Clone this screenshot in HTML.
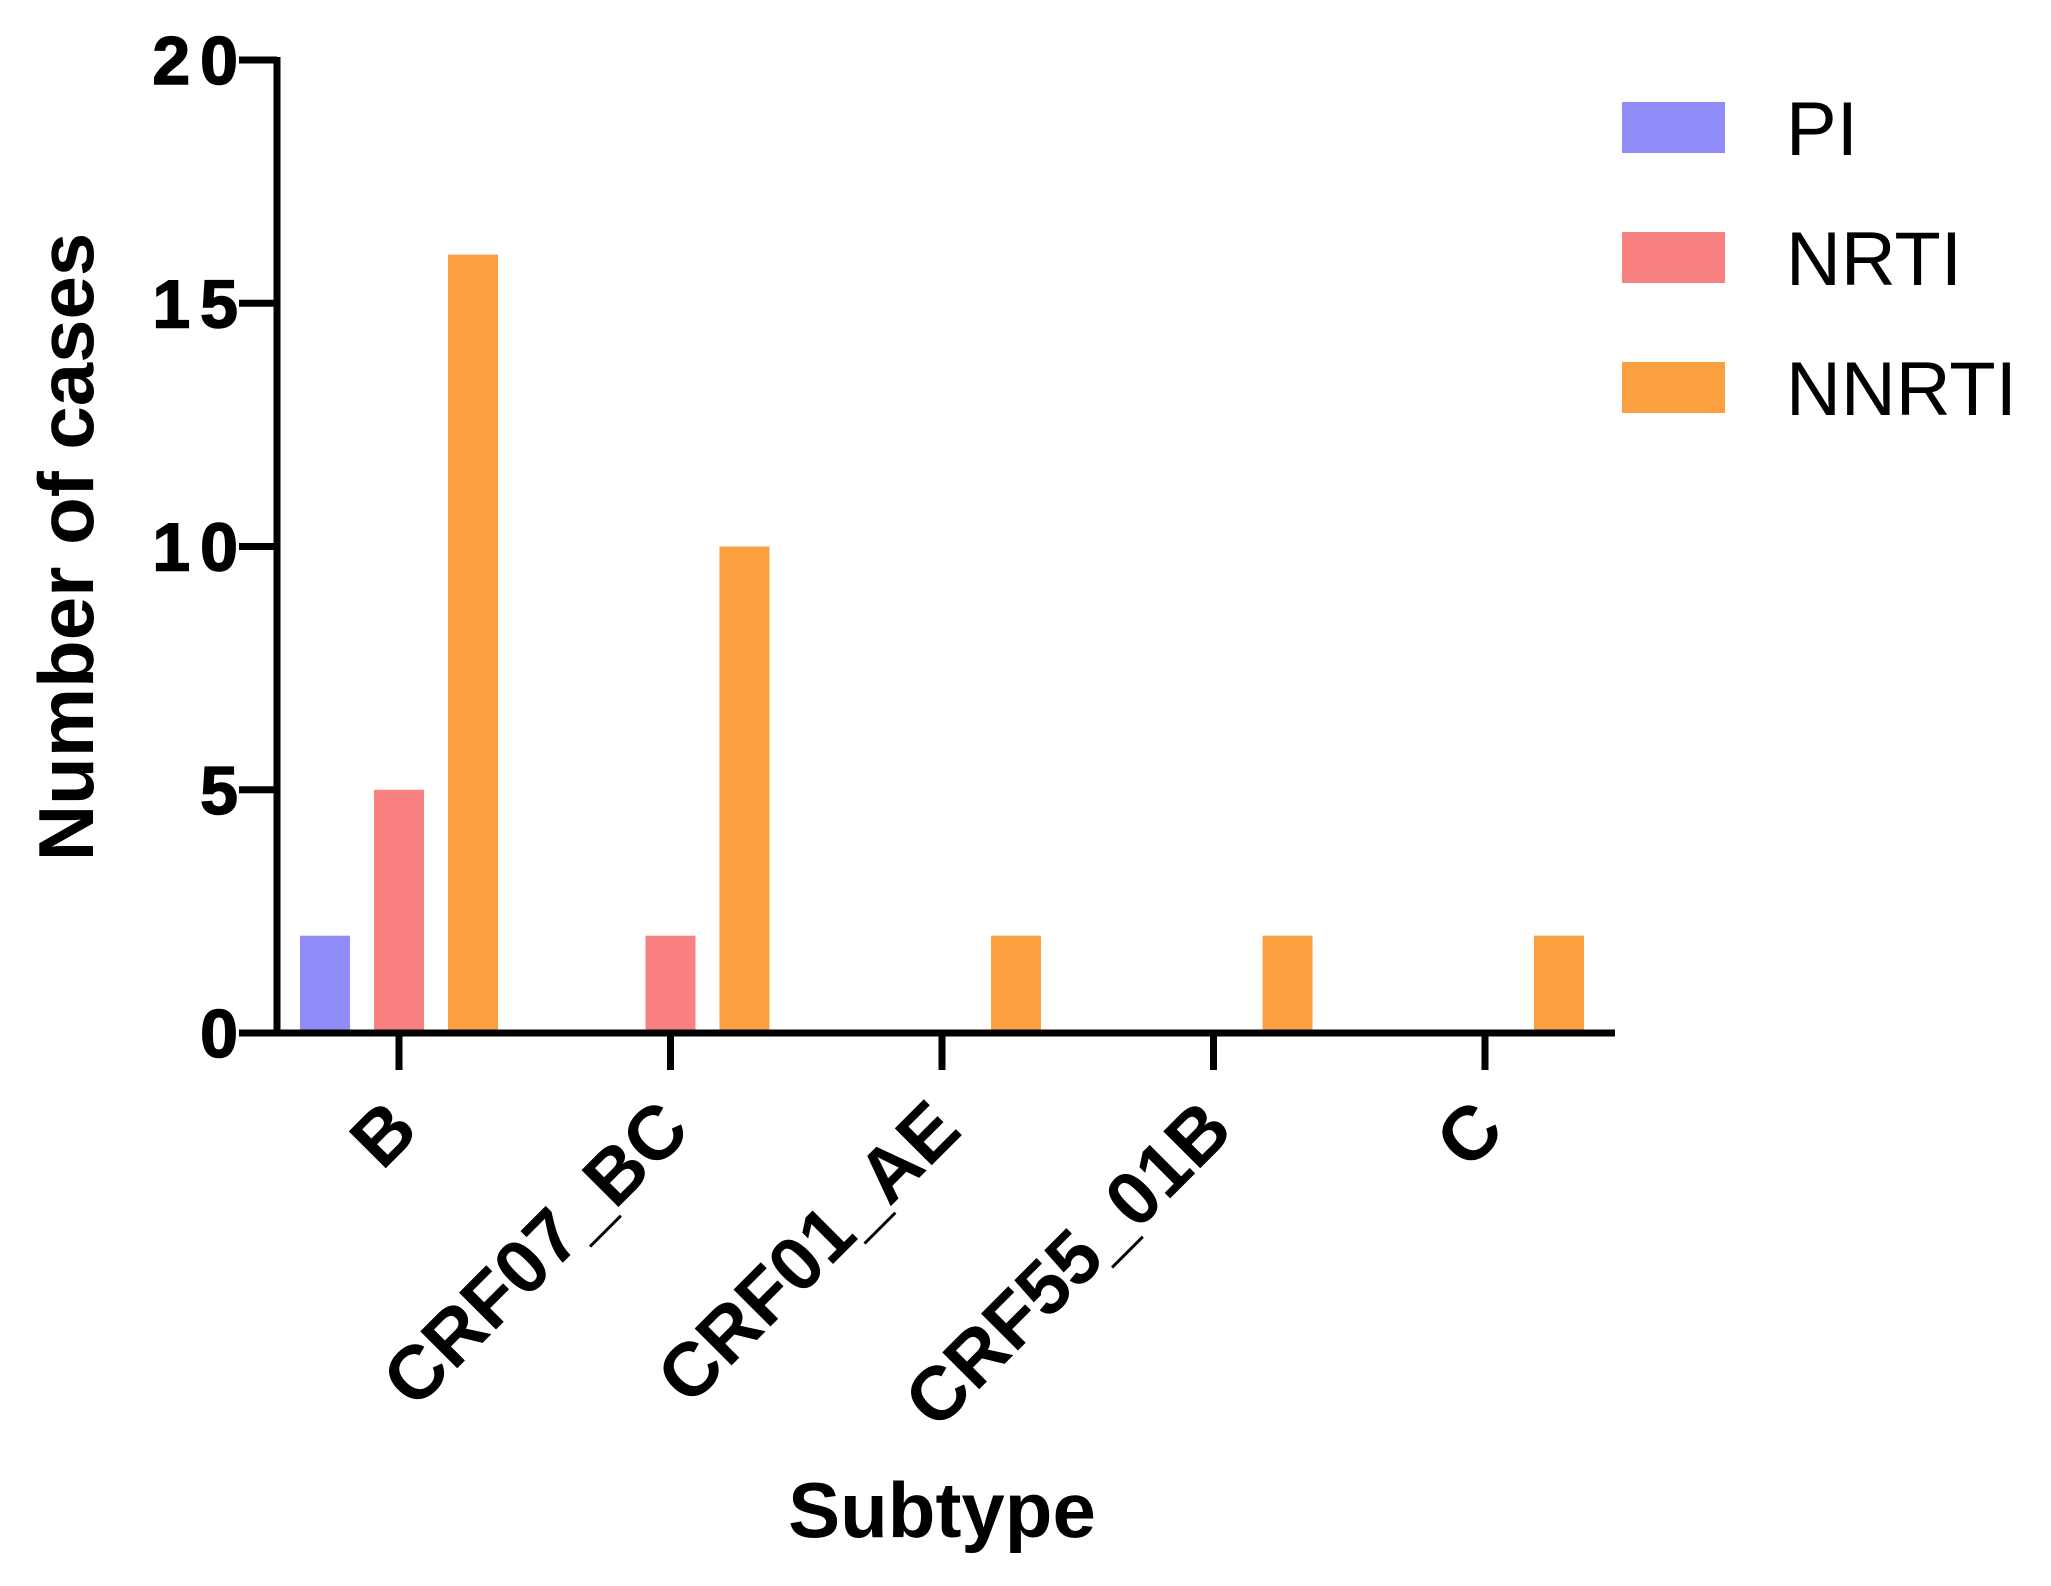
<!DOCTYPE html>
<html><head><meta charset="utf-8"><style>
html,body{margin:0;padding:0;background:#fff;}
svg{display:block;}
text{font-family:"Liberation Sans",Arial,sans-serif;}
</style></head><body>
<svg id="chart" width="2051" height="1586" viewBox="0 0 2051 1586" xmlns="http://www.w3.org/2000/svg">
<g id="bars"></g>
<g id="axes"></g>
<g id="legend"></g>
</svg>
<script>
const categories = ["B", "CRF07_BC", "CRF01_AE", "CRF55_01B", "C"];
const seriesNames = ["PI", "NRTI", "NNRTI"];
const piValues = [2, 0, 0, 0, 0];
const nrtiValues = [5, 2, 0, 0, 0];
const nnrtiValues = [16, 10, 2, 2, 2];
const yTicks = [0, 5, 10, 15, 20];

const NS = "http://www.w3.org/2000/svg";
const colors = ["#8f8cf8", "#f98080", "#fba040"];
const series = [piValues, nrtiValues, nnrtiValues];
const x0 = 277, x1 = 1615, yBase = 1033, yTop = 60, yMax = 20;
const catStart = 399, catStep = 271.5;
function yScale(v){ return yBase - (v / yMax) * (yBase - yTop); }
function xScale(i){ return catStart + i * catStep; }
const barW = 50, barGap = 74;
function mk(tag, attrs, parent){
  const el = document.createElementNS(NS, tag);
  for (const k in attrs) el.setAttribute(k, attrs[k]);
  parent.appendChild(el);
  return el;
}
const barsG = document.getElementById('bars');
series.forEach((vals, s) => {
  vals.forEach((v, i) => {
    if (v <= 0) return;
    const cx = xScale(i) + (s - 1) * barGap;
    const r = mk('rect', {x: cx - barW/2, y: yScale(v), width: barW, height: yBase - yScale(v), fill: colors[s]}, barsG);
    
    
  });
});
const axG = document.getElementById('axes');
const yl = mk('line', {x1: x0, y1: yTop - 3, x2: x0, y2: yBase + 3, stroke: '#000', 'stroke-width': 7}, axG);


const xl = mk('line', {x1: x0 - 3, y1: yBase, x2: x1, y2: yBase, stroke: '#000', 'stroke-width': 7}, axG);


yTicks.forEach(t => {
  const y = yScale(t);
  const tk = mk('line', {x1: 239, y1: y, x2: x0, y2: y, stroke: '#000', 'stroke-width': 7}, axG);
  
  
  const tx = mk('text', {x: 248, y: y + 24, 'text-anchor': 'end', 'font-size': 68, 'font-weight': 'bold', 'letter-spacing': 10, stroke: '#000', 'stroke-width': 1.5}, axG);
  tx.textContent = t;
  
  
});
categories.forEach((c, i) => {
  const x = xScale(i);
  const tk = mk('line', {x1: x, y1: yBase, x2: x, y2: 1070, stroke: '#000', 'stroke-width': 7}, axG);
  
  
  const ex = x + 22, ey = 1133;
  const tx = mk('text', {x: ex, y: ey, 'text-anchor': 'end', 'font-size': 76, 'font-weight': 'bold', transform: 'rotate(-45 ' + ex + ' ' + ey + ')'}, axG);
  tx.textContent = c;
  
  
});
const yt = mk('text', {x: 0, y: 0, 'text-anchor': 'middle', 'font-size': 78, 'font-weight': 'bold', transform: 'translate(93 547) rotate(-90)'}, axG);
yt.textContent = 'Number of cases';


const xt = mk('text', {x: 942, y: 1537, 'text-anchor': 'middle', 'font-size': 78, 'font-weight': 'bold'}, axG);
xt.textContent = 'Subtype';


const lg = document.getElementById('legend');
const legY = [102, 232, 362];
seriesNames.forEach((n, s) => {
  const r = mk('rect', {x: 1622, y: legY[s], width: 103, height: 51, fill: colors[s]}, lg);
  
  
  const t = mk('text', {x: 1786, y: legY[s] + 53, 'font-size': 76}, lg);
  t.textContent = n;
  
  
});
</script>
</body></html>
